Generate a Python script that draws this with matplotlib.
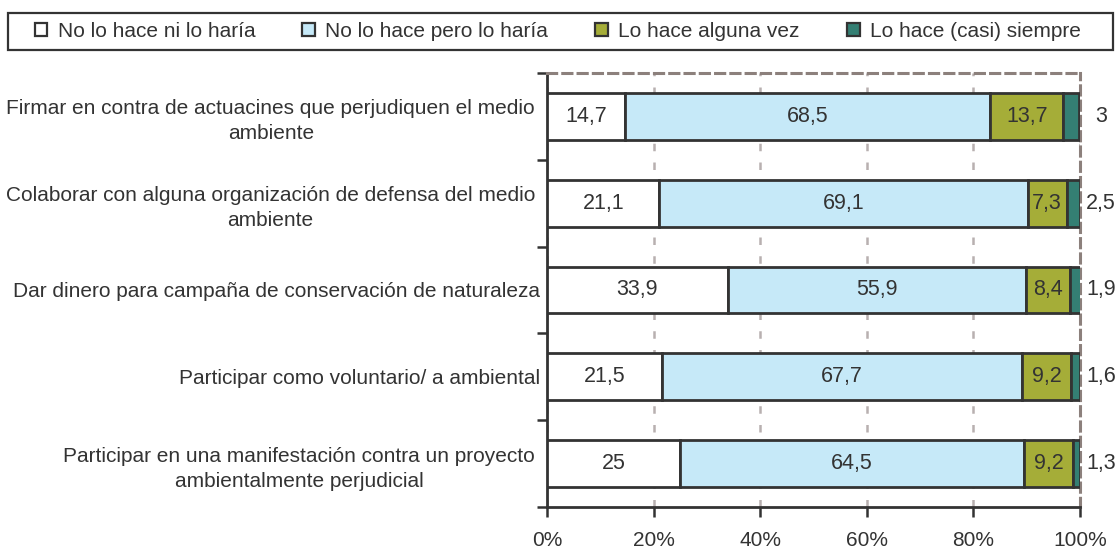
import numpy as np
import matplotlib.pyplot as plt
from matplotlib.patches import Rectangle
from matplotlib.transforms import ScaledTranslation

plt.rcParams['font.family'] = ['Liberation Sans', 'DejaVu Sans']
fs = 15

categorias = [
    "Firmar en contra de actuacines que perjudiquen el medio\nambiente",
    "Colaborar con alguna organización de defensa del medio\nambiente",
    "Dar dinero para campaña de conservación de naturaleza",
    "Participar como voluntario/ a ambiental",
    "Participar en una manifestación contra un proyecto\nambientalmente perjudicial",
]
no_ni_haria = [14.7, 21.1, 33.9, 21.5, 25]
no_pero_haria = [68.5, 69.1, 55.9, 67.7, 64.5]
alguna_vez = [13.7, 7.3, 8.4, 9.2, 9.2]
casi_siempre = [3, 2.5, 1.9, 1.6, 1.3]

series = [no_ni_haria, no_pero_haria, alguna_vez, casi_siempre]
nombres = ["No lo hace ni lo haría", "No lo hace pero lo haría",
           "Lo hace alguna vez", "Lo hace (casi) siempre"]
colores = ["#FFFFFF", "#C6E9F8", "#A5AD38", "#347F73"]
borde = "#333333"
txt = "#333333"

fig = plt.figure(figsize=(11.2, 5.58), dpi=100)
ax = fig.add_axes([0.4884, 0.0914, 0.4759, 0.7778])

y = np.arange(len(categorias))
izq = np.zeros(len(categorias))
barras = []
for vals, col, nom in zip(series, colores, nombres):
    b = ax.barh(y, vals, left=izq, height=0.54, color=col, edgecolor=borde,
                linewidth=2, label=nom, zorder=3)
    barras.append(b)
    izq = izq + np.array(vals)

# etiquetas dentro de los segmentos (las tres primeras series)
for vals, b in zip(series[:3], barras[:3]):
    for rect, v in zip(b, vals):
        cx = rect.get_x() + rect.get_width() / 2
        ax.text(cx, rect.get_y() + rect.get_height() / 2, f"{v:g}".replace(".", ","),
                ha="center", va="center", fontsize=fs + 0.5, color=txt, zorder=4)
# última serie fuera de la barra
for yi, v in zip(y, casi_siempre):
    ax.text(103.9, yi, f"{v:g}".replace(".", ","), ha="center", va="center",
            fontsize=fs + 0.5, color=txt, clip_on=False)

ax.set_xlim(0, 100)
ax.set_ylim(len(categorias) - 0.5, -0.5)
ax.set_xticks([0, 20, 40, 60, 80, 100])
ax.set_xticklabels(["0%", "20%", "40%", "60%", "80%", "100%"])
ax.set_yticks(y)
ax.set_yticklabels(categorias, ha="right", multialignment="center", linespacing=1.4)
ax.set_yticks(np.arange(-0.5, len(categorias) + 0.5, 1), minor=True)
ax.tick_params(axis="y", which="major", length=0, labelsize=fs, labelcolor=txt, pad=5)
ax.tick_params(axis="y", which="minor", length=7, width=1.8, color=borde, direction="out")
ax.tick_params(axis="x", length=7, width=1.8, color=borde, labelsize=fs,
               labelcolor=txt, direction="out", pad=10)

# las etiquetas de dos líneas quedan algo más a la izquierda
for lab in ax.get_yticklabels():
    if "\n" in lab.get_text():
        lab.set_transform(lab.get_transform() + ScaledTranslation(-0.05, 0, fig.dpi_scale_trans))

ax.grid(axis="x", color="#B8B0B0", linestyle=(0, (3, 4.5)), linewidth=1.8, zorder=0)
for s in ["top", "right"]:
    ax.spines[s].set_color("#8C807C")
    ax.spines[s].set_linestyle((0, (3, 2)))
    ax.spines[s].set_linewidth(2.2)
for s in ["left", "bottom"]:
    ax.spines[s].set_color(borde)
    ax.spines[s].set_linewidth(2)

# leyenda con marco dibujado aparte
fig.add_artist(Rectangle((0.0071, 0.9104), 0.9866, 0.0663, transform=fig.transFigure,
                         fill=False, edgecolor=borde, linewidth=1.6))
leg = fig.legend(loc="center left", bbox_to_anchor=(0.031, 0.9104, 0.934, 0.0663),
                 bbox_transform=fig.transFigure, ncol=4, mode="expand",
                 frameon=False, fontsize=fs,
                 handlelength=0.6, handleheight=0.6, handletextpad=0.5,
                 borderpad=0, borderaxespad=0)
for h in leg.legend_handles:
    h.set_linewidth(1.6)
for t in leg.get_texts():
    t.set_color(txt)

fig.savefig("out.png", dpi=100)
